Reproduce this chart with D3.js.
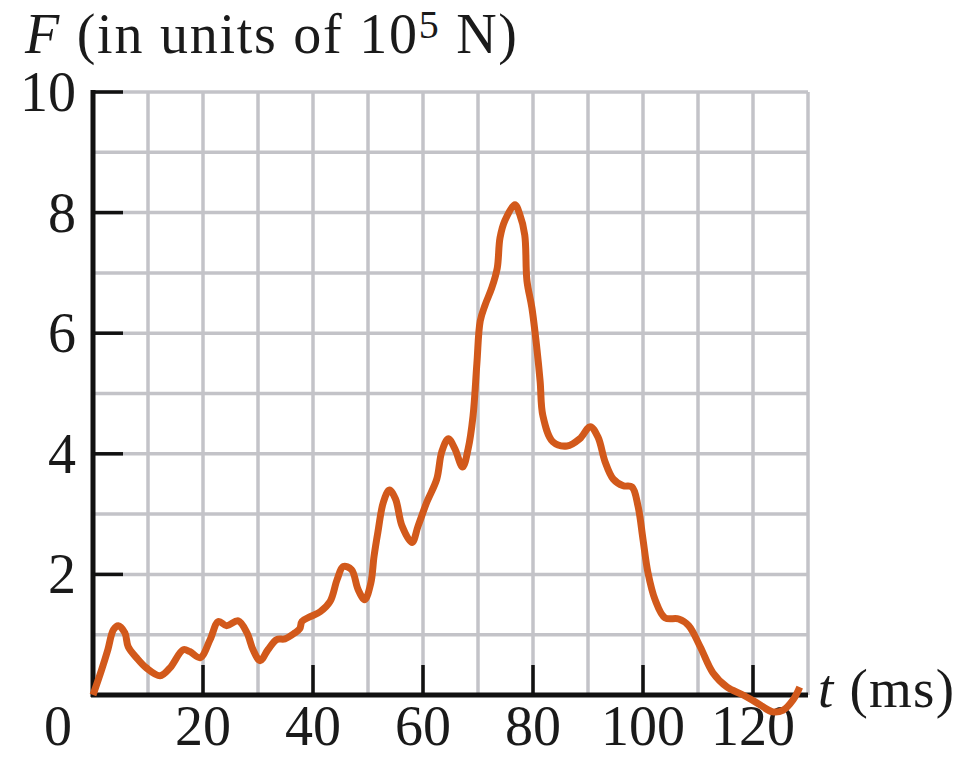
<!DOCTYPE html>
<html>
<head>
<meta charset="utf-8">
<script src="https://d3js.org/d3.v7.min.js"></script>
<style>
  body { margin: 0; background: #fff; }
  svg text { font-family: "Liberation Serif", "DejaVu Serif", serif; fill: #1a1a1a; }
</style>
</head>
<body>
<div id="chart"></div>
<script>
// force pulse: time (ms) and force (10^5 N)
var timeMs = [0, 1.5, 2.7, 3.7, 4.6, 5.8, 6.4, 7.9, 9.7, 12.2, 14, 16.4, 17.6, 19.5, 21.3, 22.8,
  24.3, 26.4, 28, 29.1, 30.4, 31.8, 33.4, 34.9, 36.7, 37.6, 38, 39.5, 41.3, 43.1, 44.4, 45.5,
  47, 48.2, 49.4, 50.5, 51.1, 51.8, 52.8, 53.9, 55, 56.2, 58, 59.1, 60.7, 62.5, 63.4, 64.6,
  65.8, 67.2, 68.2, 69.1, 69.8, 70.4, 71.3, 72.5, 73.5, 74, 74.9, 76.7, 77.6, 78.5, 78.9,
  79.8, 80.7, 81.3, 81.8, 83.6, 86.2, 88.5, 90.4, 91.8, 93.1, 94.6, 96.4, 98, 99.1, 100,
  100.9, 102.2, 104, 106.5, 108.3, 110.4, 112.7, 115.3, 118.2, 120.7, 123.6, 125.5, 127.3, 128.5];
var force = [0, 0.4, 0.75, 1.08, 1.15, 1.03, 0.8, 0.62, 0.45, 0.32, 0.45, 0.75, 0.72, 0.62, 0.92, 1.22,
  1.15, 1.23, 1.03, 0.75, 0.57, 0.75, 0.92, 0.93, 1.03, 1.1, 1.22, 1.3, 1.38, 1.55, 1.92, 2.13,
  2.08, 1.75, 1.58, 1.85, 2.3, 2.7, 3.2, 3.4, 3.25, 2.8, 2.53, 2.8, 3.2, 3.58, 4.03, 4.25,
  4.08, 3.78, 4.08, 4.63, 5.5, 6.2, 6.47, 6.75, 7.08, 7.58, 7.87, 8.13, 7.97, 7.63, 6.87,
  6.42, 5.75, 5.2, 4.63, 4.2, 4.13, 4.25, 4.45, 4.28, 3.87, 3.58, 3.47, 3.45, 3.13, 2.58,
  2.03, 1.58, 1.28, 1.26, 1.15, 0.8, 0.37, 0.13, 0, -0.13, -0.28, -0.25, -0.08, 0.13];

var xTickVals = [20, 40, 60, 80, 100, 120];
var yTickVals = [2, 4, 6, 8, 10];
var xGridVals = d3.range(10, 140, 10);
var yGridVals = d3.range(1, 11, 1);

var W = 970, H = 757;
var svg = d3.select("#chart").append("svg")
    .attr("width", W)
    .attr("height", H);

var x = d3.scaleLinear().domain([0, 130]).range([93, 808]);
var y = d3.scaleLinear().domain([0, 10]).range([695, 92]);

// grid
svg.append("g").selectAll("line").data(xGridVals).enter().append("line")
    .attr("x1", d => x(d)).attr("x2", d => x(d))
    .attr("y1", y(10)).attr("y2", y(0))
    .attr("stroke", "#c3c3c8").attr("stroke-width", 3.5);
svg.append("g").selectAll("line").data(yGridVals).enter().append("line")
    .attr("x1", x(0)).attr("x2", x(130))
    .attr("y1", d => y(d)).attr("y2", d => y(d))
    .attr("stroke", "#c3c3c8").attr("stroke-width", 3.5);

// axes lines
svg.append("line")
    .attr("x1", x(0)).attr("x2", x(0))
    .attr("y1", y(10) - 2).attr("y2", y(0) + 2)
    .attr("stroke", "#111").attr("stroke-width", 5);
svg.append("line")
    .attr("x1", x(0) - 2).attr("x2", x(130))
    .attr("y1", y(0)).attr("y2", y(0))
    .attr("stroke", "#111").attr("stroke-width", 5);

// inner ticks
svg.append("g").selectAll("line").data(xTickVals).enter().append("line")
    .attr("x1", d => x(d)).attr("x2", d => x(d))
    .attr("y1", y(0)).attr("y2", y(0) - 30)
    .attr("stroke", "#111").attr("stroke-width", 3.5);
svg.append("g").selectAll("line").data(yTickVals).enter().append("line")
    .attr("x1", x(0)).attr("x2", x(0) + 30)
    .attr("y1", d => y(d)).attr("y2", d => y(d))
    .attr("stroke", "#111").attr("stroke-width", 3.5);

// tick labels
svg.append("g").selectAll("text").data(xTickVals).enter().append("text")
    .attr("x", d => x(d)).attr("y", 745)
    .attr("text-anchor", "middle")
    .attr("font-size", 56)
    .text(d => d);
svg.append("g").selectAll("text").data(yTickVals).enter().append("text")
    .attr("x", 76).attr("y", d => y(d) + 19)
    .attr("text-anchor", "end")
    .attr("font-size", 56)
    .text(d => d);
svg.append("text")
    .attr("x", 58).attr("y", 745)
    .attr("text-anchor", "middle")
    .attr("font-size", 56)
    .text("0");

// axis titles
var title = svg.append("text")
    .attr("x", 25).attr("y", 53)
    .attr("font-size", 56)
    .attr("textLength", 492)
    .attr("lengthAdjust", "spacing");
title.append("tspan").attr("font-style", "italic").text("F");
title.append("tspan").text(" (in units of 10");
title.append("tspan").attr("font-size", 40).attr("dy", -15).text("5");
title.append("tspan").attr("dy", 15).text(" N)");

var xt = svg.append("text")
    .attr("x", 818).attr("y", 707)
    .attr("font-size", 55)
    .attr("textLength", 136)
    .attr("lengthAdjust", "spacing");
xt.append("tspan").attr("font-style", "italic").text("t");
xt.append("tspan").text(" (ms)");

// curve
var pts = timeMs.map((t, i) => [t, force[i]]);
var line = d3.line()
    .x(d => x(d[0]))
    .y(d => y(d[1]))
    .curve(d3.curveCatmullRom.alpha(0.5));

svg.append("path")
    .datum(pts)
    .attr("d", line)
    .attr("fill", "none")
    .attr("stroke", "#d2591b")
    .attr("stroke-width", 7)
    .attr("stroke-linejoin", "round")
    .attr("stroke-linecap", "butt");
</script>
</body>
</html>
